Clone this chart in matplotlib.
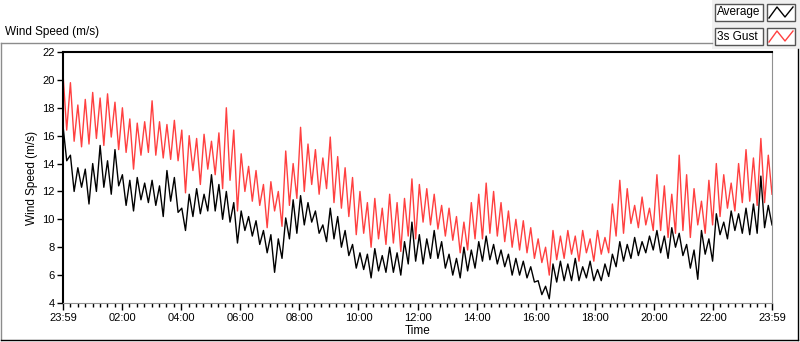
import numpy as np
import matplotlib
matplotlib.use("Agg")
import matplotlib.pyplot as plt
from matplotlib.patches import Rectangle
from matplotlib.lines import Line2D

plt.rcParams['font.family'] = ['Liberation Sans', 'DejaVu Sans']

# 15-minute bins over the day, high / low of each trace
gust_hi = [20.4, 19.8, 18.2, 18.6, 19.1, 18.7, 19.0, 18.4,
           18.0, 17.2, 16.9, 17.0, 18.5, 17.0, 16.8, 17.1,
           16.4, 16.0, 15.8, 16.1, 15.6, 16.2, 18.0, 16.4,
           14.7, 13.8, 13.5, 12.5, 12.7, 12.0, 14.9, 14.0,
           16.6, 15.4, 15.0, 14.4, 15.9, 14.5, 13.7, 13.0,
           12.0, 11.2, 11.5, 10.8, 11.8, 11.2, 11.5, 12.9,
           12.5, 12.2, 11.8, 11.0, 10.8, 10.2, 9.8, 11.2,
           11.8, 12.6, 12.0, 11.2, 10.6, 10.0, 9.9, 9.4,
           8.6, 8.0, 9.2, 8.8, 9.2, 8.8, 9.2, 8.6,
           9.2, 8.7, 11.1, 12.8, 12.2, 11.0, 11.6, 10.8,
           13.2, 12.4, 11.8, 14.6, 13.2, 12.2, 11.3, 12.8,
           14.0, 13.2, 12.6, 14.0, 15.0, 14.4, 15.8, 14.6]
gust_lo = [16.4, 15.6, 15.2, 15.4, 15.8, 15.3, 15.9, 15.0,
           14.8, 13.6, 14.6, 14.8, 14.6, 14.4, 14.3, 14.2,
           11.9, 13.5, 12.5, 13.6, 13.2, 12.2, 12.8, 10.6,
           12.0, 11.3, 11.0, 9.4, 10.6, 9.5, 11.0, 11.5,
           12.0, 12.5, 11.8, 12.2, 11.2, 10.8, 10.2, 8.9,
           9.0, 8.0, 8.6, 8.2, 8.3, 7.7, 8.8, 8.6,
           9.8, 9.6, 9.3, 8.8, 8.5, 7.6, 7.8, 8.6,
           8.6, 9.0, 8.8, 8.4, 8.0, 7.8, 7.6, 7.2,
           6.9, 6.0, 7.1, 7.2, 7.5, 7.0, 7.6, 7.0,
           7.5, 7.6, 8.8, 9.0, 9.7, 9.4, 9.6, 9.2,
           9.2, 8.7, 9.0, 9.2, 8.7, 9.6, 9.0, 9.6,
           10.2, 10.8, 10.6, 11.2, 11.3, 11.0, 11.2, 11.8]
avg_hi = [16.7, 14.6, 13.7, 13.6, 14.0, 15.3, 14.2, 15.0,
          13.2, 12.8, 13.0, 12.6, 12.8, 12.4, 13.5, 13.0,
          10.8, 11.8, 12.2, 11.8, 13.2, 12.5, 12.0, 11.2,
          10.6, 10.2, 9.9, 9.2, 8.9, 8.6, 10.1, 11.4,
          11.7, 11.2, 10.6, 9.6, 10.8, 10.2, 9.2, 8.2,
          7.6, 7.5, 7.9, 7.4, 8.0, 7.6, 8.4, 9.8,
          8.9, 8.6, 9.2, 8.4, 7.5, 7.2, 8.0, 7.8,
          8.4, 8.8, 8.2, 7.8, 7.5, 7.2, 7.0, 6.6,
          5.6, 5.2, 6.8, 7.0, 6.8, 7.2, 6.6, 7.0,
          6.4, 6.8, 7.5, 8.4, 8.2, 8.7, 8.4, 8.8,
          9.2, 8.8, 9.4, 9.0, 8.2, 7.8, 9.2, 8.6,
          10.4, 9.8, 10.6, 10.4, 10.8, 11.1, 13.1, 11.0]
avg_lo = [14.2, 12.0, 12.3, 11.1, 12.0, 12.3, 11.8, 12.4,
          11.0, 10.6, 11.4, 11.2, 11.0, 10.2, 11.3, 10.5,
          9.2, 10.2, 10.4, 10.6, 10.6, 10.0, 9.8, 8.3,
          9.2, 8.8, 8.2, 7.6, 6.2, 7.2, 8.6, 9.0,
          9.6, 9.8, 9.0, 8.4, 8.6, 8.0, 7.4, 6.5,
          6.4, 5.8, 6.3, 6.2, 6.2, 6.0, 6.8, 7.0,
          6.8, 7.2, 7.2, 6.5, 6.0, 5.8, 6.3, 6.5,
          7.0, 7.1, 6.8, 6.6, 6.0, 6.0, 5.8, 5.5,
          4.6, 4.3, 5.5, 5.6, 5.6, 5.6, 5.8, 5.6,
          5.6, 5.9, 6.6, 7.0, 7.2, 7.4, 7.6, 7.8,
          7.6, 7.2, 8.0, 7.4, 6.5, 5.7, 7.5, 7.0,
          8.9, 8.6, 9.2, 9.0, 8.9, 9.0, 9.4, 9.6]

tick_hours = [0, 2, 4, 6, 8, 10, 12, 14, 16, 18, 20, 22, 24]
tick_labels = ["23:59", "02:00", "04:00", "06:00", "08:00", "10:00", "12:00",
               "14:00", "16:00", "18:00", "20:00", "22:00", "23:59"]


def zigzag(hi, lo):
    vals = np.column_stack([hi, lo]).ravel()
    t = np.linspace(0, 24, len(vals))
    return t, vals


W, H = 800, 342
fig = plt.figure(figsize=(W / 100, H / 100), dpi=100)
fig.patch.set_facecolor("white")


def fx(px):
    return px / W


def fy(py):
    return 1 - py / H


# outer frame
fig.add_artist(Line2D([fx(0.5), fx(712)], [fy(42.5), fy(42.5)], color="#8c8c8c", lw=1))
fig.add_artist(Line2D([fx(0.8), fx(0.8)], [fy(42.5), fy(340)], color="#8c8c8c", lw=1))
fig.add_artist(Line2D([fx(0.5), fx(798)], [fy(340), fy(340)], color="black", lw=1))
fig.add_artist(Line2D([fx(797.5), fx(797.5)], [fy(49), fy(340)], color="black", lw=1))

# legend area
fig.add_artist(Rectangle((fx(712), fy(49)), fx(88), 49 / H, facecolor="#f0f0f0",
                         edgecolor="none", transform=fig.transFigure))
for row, (name, col) in enumerate([("Average", "black"), ("3s Gust", "#ff4040")]):
    top = 4 + row * 24
    fig.add_artist(Rectangle((fx(715), fy(top + 17)), fx(48), 17 / H, facecolor="white",
                             edgecolor="#555555", lw=1, transform=fig.transFigure))
    fig.text(fx(717), fy(top + 8.5), name, fontsize=8.5, va="center", ha="left")
    fig.add_artist(Rectangle((fx(767), fy(top + 17)), fx(28), 17 / H, facecolor="white",
                             edgecolor="#555555", lw=1, transform=fig.transFigure))
    fig.add_artist(Line2D([fx(769), fx(777), fx(785), fx(793)],
                          [fy(top + 14), fy(top + 3), fy(top + 13), fy(top + 3)],
                          color=col, lw=1))

fig.text(fx(5), fy(32), "Wind Speed (m/s)", fontsize=8.5, va="center", ha="left")

ax = fig.add_axes([fx(63), fy(303), fx(772 - 63), (303 - 52) / H])
t, g = zigzag(gust_hi, gust_lo)
ax.plot(t, g, color="#ff4040", lw=1)
t, a = zigzag(avg_hi, avg_lo)
ax.plot(t, a, color="black", lw=1)

ax.set_xlim(0, 24)
ax.set_ylim(4, 22)
ax.set_yticks(np.arange(4, 23, 2))
ax.set_xticks(tick_hours)
ax.set_xticklabels(tick_labels)
ax.set_xticks(np.arange(0, 24.01, 0.25), minor=True)
ax.tick_params(axis="both", labelsize=8, pad=2)
ax.tick_params(axis="x", which="major", length=5, width=1)
ax.tick_params(axis="x", which="minor", length=3, width=1)
ax.tick_params(axis="y", length=4, width=1)

ax.spines["top"].set_linewidth(1.5)
ax.spines["left"].set_linewidth(1.5)
ax.spines["bottom"].set_color("#909090")
ax.spines["right"].set_color("#909090")

ax.set_ylabel("Wind Speed (m/s)", fontsize=8.5, labelpad=3)
ax.set_xlabel("Time", fontsize=8.5, labelpad=2)

fig.savefig("out.png", dpi=100)
